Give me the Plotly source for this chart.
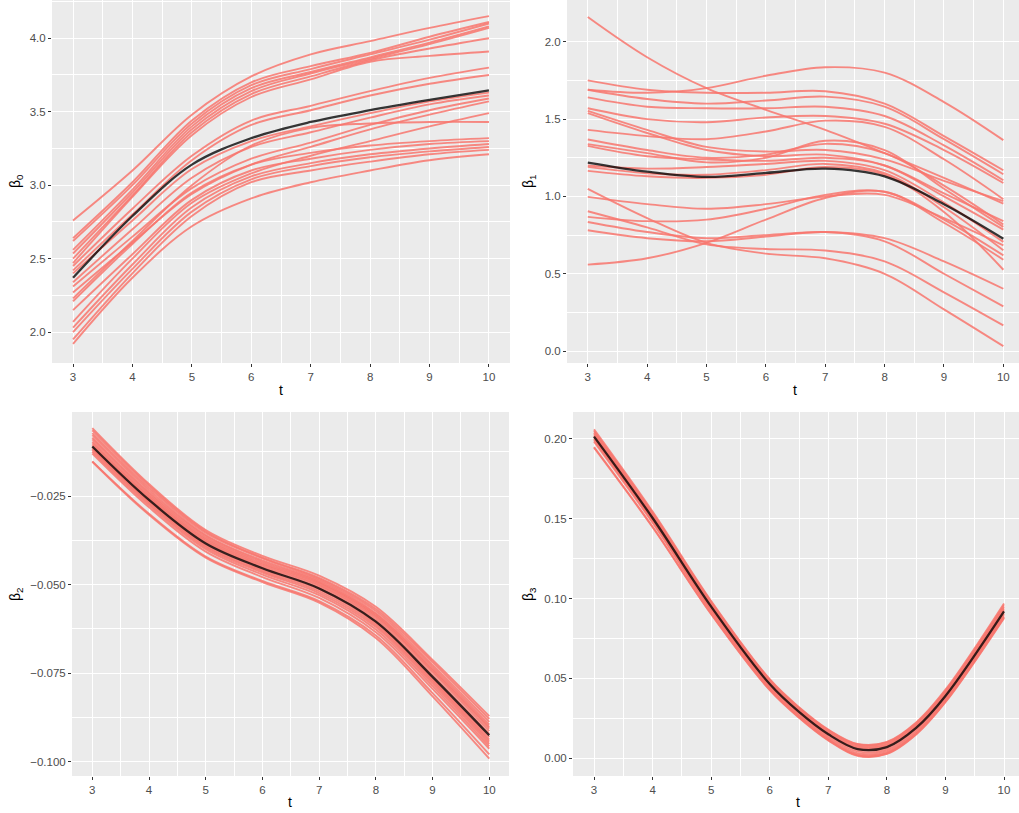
import plotly.graph_objects as go

W, H = 1019, 813

# ---------------- data ----------------
T = [3, 4, 5, 6, 7, 8, 9, 10]
T4 = [3, 4, 5, 6, 6.5, 7, 7.5, 8, 8.5, 9, 10]
x_ticks = [3, 4, 5, 6, 7, 8, 9, 10]
x_minor = [3.5, 4.5, 5.5, 6.5, 7.5, 8.5, 9.5]

beta0_mean = [2.37, 2.79, 3.14, 3.32, 3.43, 3.51, 3.58, 3.645]
beta0_curves = [
    [2.76, 3.10, 3.48, 3.74, 3.89, 3.98, 4.07, 4.15],
    [2.64, 3.02, 3.44, 3.70, 3.81, 3.90, 4.01, 4.11],
    [2.62, 3.00, 3.42, 3.68, 3.79, 3.89, 3.99, 4.10],
    [2.56, 2.97, 3.40, 3.66, 3.77, 3.87, 3.97, 4.08],
    [2.535, 2.95, 3.38, 3.64, 3.76, 3.86, 3.96, 4.07],
    [2.50, 2.93, 3.36, 3.62, 3.74, 3.85, 3.93, 4.00],
    [2.47, 2.92, 3.34, 3.60, 3.72, 3.84, 3.88, 3.91],
    [2.45, 2.84, 3.20, 3.44, 3.54, 3.64, 3.73, 3.80],
    [2.42, 2.80, 3.17, 3.41, 3.51, 3.61, 3.69, 3.75],
    [2.40, 2.76, 3.11, 3.30, 3.40, 3.49, 3.57, 3.63],
    [2.34, 2.70, 3.05, 3.26, 3.36, 3.46, 3.55, 3.61],
    [2.31, 2.65, 2.98, 3.18, 3.29, 3.41, 3.51, 3.59],
    [2.27, 2.61, 2.94, 3.14, 3.26, 3.38, 3.48, 3.57],
    [2.23, 2.62, 3.00, 3.27, 3.39, 3.42, 3.43, 3.43],
    [2.07, 2.50, 2.88, 3.08, 3.20, 3.30, 3.40, 3.49],
    [2.21, 2.60, 2.95, 3.14, 3.22, 3.27, 3.30, 3.32],
    [2.15, 2.53, 2.90, 3.10, 3.18, 3.24, 3.28, 3.30],
    [2.03, 2.46, 2.85, 3.06, 3.15, 3.21, 3.25, 3.28],
    [2.00, 2.43, 2.82, 3.04, 3.13, 3.19, 3.23, 3.26],
    [1.95, 2.40, 2.79, 3.02, 3.10, 3.16, 3.21, 3.24],
    [1.92, 2.37, 2.72, 2.91, 3.02, 3.10, 3.17, 3.21],
]

beta1_mean = [1.219, 1.16, 1.126, 1.152, 1.18, 1.13, 0.95, 0.727]
beta1_curves = [
    [1.69, 1.67, 1.70, 1.78, 1.835, 1.80, 1.61, 1.364],
    [2.16, 1.90, 1.70, 1.56, 1.43, 1.28, 1.12, 0.954],
    [1.75, 1.69, 1.67, 1.67, 1.68, 1.60, 1.39, 1.169],
    [1.69, 1.63, 1.60, 1.62, 1.645, 1.58, 1.37, 1.143],
    [1.64, 1.58, 1.57, 1.57, 1.58, 1.52, 1.33, 1.105],
    [1.57, 1.50, 1.48, 1.51, 1.52, 1.47, 1.30, 1.087],
    [1.43, 1.39, 1.37, 1.42, 1.49, 1.45, 1.24, 0.982],
    [1.553, 1.43, 1.32, 1.29, 1.30, 1.24, 1.10, 0.969],
    [1.538, 1.41, 1.30, 1.26, 1.27, 1.20, 1.02, 0.841],
    [1.368, 1.30, 1.25, 1.27, 1.34, 1.28, 1.07, 0.819],
    [1.338, 1.28, 1.22, 1.25, 1.36, 1.30, 1.05, 0.803],
    [1.327, 1.26, 1.24, 1.23, 1.25, 1.20, 1.00, 0.785],
    [1.20, 1.18, 1.19, 1.21, 1.23, 1.17, 0.96, 0.706],
    [1.191, 1.15, 1.14, 1.17, 1.21, 1.15, 0.93, 0.652],
    [1.165, 1.13, 1.12, 1.14, 1.19, 1.14, 0.90, 0.526],
    [0.997, 0.95, 0.92, 0.95, 1.00, 1.01, 0.86, 0.684],
    [0.868, 0.84, 0.85, 0.92, 1.01, 1.03, 0.85, 0.619],
    [0.559, 0.60, 0.70, 0.85, 0.99, 1.03, 0.83, 0.591],
    [0.835, 0.77, 0.73, 0.75, 0.77, 0.73, 0.58, 0.403],
    [0.781, 0.73, 0.71, 0.74, 0.77, 0.71, 0.50, 0.289],
    [0.904, 0.80, 0.69, 0.66, 0.65, 0.58, 0.38, 0.166],
    [1.049, 0.86, 0.70, 0.63, 0.60, 0.50, 0.27, 0.032],
]

beta2_mean = [-0.0110, -0.0261, -0.0384, -0.0454, -0.0511, -0.0605, -0.0761, -0.0926]
beta2_curves = [
    [-0.0058, -0.0216, -0.0346, -0.0419, -0.0475, -0.0563, -0.0713, -0.0872],
    [-0.0064, -0.0221, -0.0350, -0.0424, -0.0481, -0.0569, -0.0719, -0.0880],
    [-0.0072, -0.0227, -0.0354, -0.0426, -0.0485, -0.0575, -0.0727, -0.0888],
    [-0.0078, -0.0233, -0.0360, -0.0432, -0.0489, -0.0581, -0.0733, -0.0896],
    [-0.0085, -0.0239, -0.0364, -0.0436, -0.0493, -0.0585, -0.0739, -0.0902],
    [-0.0090, -0.0244, -0.0369, -0.0440, -0.0496, -0.0589, -0.0743, -0.0907],
    [-0.0096, -0.0249, -0.0373, -0.0444, -0.0500, -0.0593, -0.0748, -0.0914],
    [-0.0101, -0.0253, -0.0377, -0.0448, -0.0504, -0.0599, -0.0756, -0.0922],
    [-0.0106, -0.0257, -0.0381, -0.0452, -0.0509, -0.0605, -0.0764, -0.0931],
    [-0.0112, -0.0263, -0.0387, -0.0458, -0.0514, -0.0610, -0.0769, -0.0938],
    [-0.0116, -0.0267, -0.0391, -0.0462, -0.0519, -0.0615, -0.0774, -0.0944],
    [-0.0120, -0.0271, -0.0395, -0.0466, -0.0524, -0.0620, -0.0780, -0.0950],
    [-0.0125, -0.0276, -0.0400, -0.0472, -0.0530, -0.0627, -0.0787, -0.0957],
    [-0.0130, -0.0282, -0.0407, -0.0479, -0.0538, -0.0635, -0.0795, -0.0964],
    [-0.0152, -0.0300, -0.0421, -0.0490, -0.0547, -0.0644, -0.0807, -0.0980],
    [-0.0153, -0.0303, -0.0424, -0.0493, -0.0551, -0.0651, -0.0816, -0.0992],
]

beta3_mean = [0.2015, 0.1505, 0.0950, 0.0465, 0.0290, 0.0150, 0.0058, 0.0070, 0.0190, 0.0390, 0.0920]
beta3_curves = [
    [0.2060, 0.1545, 0.0985, 0.0495, 0.0320, 0.0180, 0.0090, 0.0103, 0.0225, 0.0430, 0.0970],
    [0.2050, 0.1537, 0.0980, 0.0492, 0.0316, 0.0176, 0.0086, 0.0099, 0.0220, 0.0422, 0.0958],
    [0.2040, 0.1528, 0.0971, 0.0485, 0.0310, 0.0170, 0.0079, 0.0092, 0.0213, 0.0415, 0.0948],
    [0.2030, 0.1519, 0.0963, 0.0477, 0.0302, 0.0163, 0.0072, 0.0084, 0.0205, 0.0406, 0.0938],
    [0.2021, 0.1511, 0.0955, 0.0470, 0.0295, 0.0156, 0.0065, 0.0077, 0.0197, 0.0397, 0.0928],
    [0.2011, 0.1501, 0.0946, 0.0462, 0.0287, 0.0147, 0.0055, 0.0067, 0.0186, 0.0386, 0.0915],
    [0.2002, 0.1493, 0.0938, 0.0453, 0.0277, 0.0136, 0.0043, 0.0055, 0.0176, 0.0377, 0.0906],
    [0.1993, 0.1484, 0.0930, 0.0444, 0.0268, 0.0126, 0.0032, 0.0044, 0.0165, 0.0367, 0.0896],
    [0.1983, 0.1475, 0.0921, 0.0436, 0.0260, 0.0117, 0.0022, 0.0034, 0.0156, 0.0358, 0.0887],
    [0.1950, 0.1450, 0.0905, 0.0430, 0.0257, 0.0115, 0.0018, 0.0030, 0.0152, 0.0354, 0.0882],
    [0.1945, 0.1447, 0.0903, 0.0427, 0.0254, 0.0112, 0.0015, 0.0027, 0.0149, 0.0351, 0.0878],
]

y_titles = ["β<sub>0</sub>", "β<sub>1</sub>", "β<sub>2</sub>", "β<sub>3</sub>"]
y_tickvals = [
    [2.0, 2.5, 3.0, 3.5, 4.0],
    [0.0, 0.5, 1.0, 1.5, 2.0],
    [-0.100, -0.075, -0.050, -0.025],
    [0.00, 0.05, 0.10, 0.15, 0.20],
]
y_ticktext = [
    ["2.0", "2.5", "3.0", "3.5", "4.0"],
    ["0.0", "0.5", "1.0", "1.5", "2.0"],
    ["\u22120.100", "\u22120.075", "\u22120.050", "\u22120.025"],
    ["0.00", "0.05", "0.10", "0.15", "0.20"],
]
y_minor = [
    [1.75, 2.25, 2.75, 3.25, 3.75, 4.25],
    [0.25, 0.75, 1.25, 1.75],
    [-0.0875, -0.0625, -0.0375, -0.0125],
    [0.025, 0.075, 0.125, 0.175],
]

# ---------------- styling / layout ----------------
RED = "rgba(248,118,109,0.85)"
DARK = "rgba(0,0,0,0.78)"
BG = "#EBEBEB"
FONT = "Liberation Sans, Arial, sans-serif"

# panel boxes in pixels: (left, right, top, bottom)
boxes = [(52, 510, 0, 363), (567, 1019, 0, 363), (72, 509, 412, 776), (573, 1019, 412, 776)]
x_ranges = [[2.646, 10.354], [2.65, 10.264], [2.642, 10.348], [2.641, 10.256]]
y_ranges = [[1.790, 4.260], [-0.077, 2.270], [-0.1041, -0.00125], [-0.0111, 0.2169]]

fig = go.Figure()

panels = [
    (T, beta0_curves, beta0_mean),
    (T, beta1_curves, beta1_mean),
    (T, beta2_curves, beta2_mean),
    (T4, beta3_curves, beta3_mean),
]

for i, (tt, curves, mean) in enumerate(panels):
    xa = "x" if i == 0 else f"x{i+1}"
    ya = "y" if i == 0 else f"y{i+1}"
    for c in curves:
        fig.add_trace(go.Scatter(x=tt, y=c, mode="lines", xaxis=xa, yaxis=ya,
                                 line=dict(color=RED, width=1.9, shape="spline", smoothing=1.0),
                                 showlegend=False, hoverinfo="skip"))
    fig.add_trace(go.Scatter(x=tt, y=mean, mode="lines", xaxis=xa, yaxis=ya,
                             line=dict(color=DARK, width=2.3, shape="spline", smoothing=1.0),
                             showlegend=False, hoverinfo="skip"))

layout = dict(
    width=W, height=H,
    margin=dict(l=0, r=0, t=0, b=0),
    paper_bgcolor="white",
    plot_bgcolor=BG,
    font=dict(family=FONT, color="#4D4D4D", size=11),
    showlegend=False,
)

annotations = []
for i, (l, r, t, b) in enumerate(boxes):
    xk = "xaxis" if i == 0 else f"xaxis{i+1}"
    yk = "yaxis" if i == 0 else f"yaxis{i+1}"
    xa = "x" if i == 0 else f"x{i+1}"
    ya = "y" if i == 0 else f"y{i+1}"
    layout[xk] = dict(
        domain=[l / W, r / W], anchor=ya, range=x_ranges[i],
        tickmode="array", tickvals=x_ticks, ticktext=[str(v) for v in x_ticks],
        showgrid=True, gridcolor="white", gridwidth=1.1, zeroline=False, showline=False,
        ticks="outside", ticklen=3, tickwidth=1, tickcolor="#333333",
        tickfont=dict(size=11.5, color="#4D4D4D", family=FONT),
        minor=dict(tickvals=x_minor, showgrid=True, gridcolor="white", gridwidth=0.5, ticks=""),
        fixedrange=True,
    )
    layout[yk] = dict(
        domain=[1 - b / H, 1 - t / H], anchor=xa, range=y_ranges[i],
        tickmode="array", tickvals=y_tickvals[i], ticktext=y_ticktext[i],
        showgrid=True, gridcolor="white", gridwidth=1.1, zeroline=False, showline=False,
        ticks="outside", ticklen=3, tickwidth=1, tickcolor="#333333",
        tickfont=dict(size=11.5, color="#4D4D4D", family=FONT),
        minor=dict(tickvals=y_minor[i], showgrid=True, gridcolor="white", gridwidth=0.5, ticks=""),
        fixedrange=True,
    )

# axis titles as annotations (pixel-placed)
t_pos = [(281, 390), (795, 390), (290, 802), (798, 802)]
b_pos = [(16, 181), (529, 181), (16, 594), (529, 594)]
for i in range(4):
    annotations.append(dict(text="t", x=t_pos[i][0] / W, y=1 - t_pos[i][1] / H,
                            xref="paper", yref="paper", showarrow=False,
                            xanchor="center", yanchor="middle",
                            font=dict(size=14, color="black", family=FONT)))
    annotations.append(dict(text=y_titles[i], x=b_pos[i][0] / W, y=1 - b_pos[i][1] / H,
                            xref="paper", yref="paper", showarrow=False, textangle=-90,
                            xanchor="center", yanchor="middle",
                            font=dict(size=14, color="black", family=FONT)))
layout["annotations"] = annotations

fig.update_layout(**layout)
fig.write_html("out.html")
